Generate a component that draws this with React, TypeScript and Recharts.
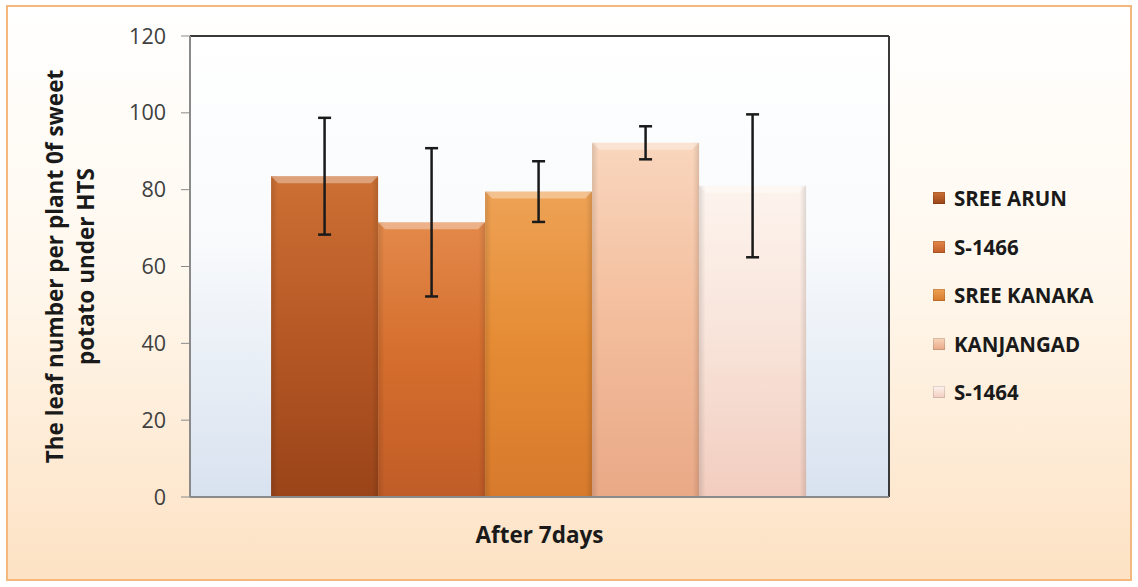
import React from "react";
import {
  BarChart,
  Bar,
  XAxis,
  YAxis,
  CartesianGrid,
  ErrorBar,
  Legend,
} from "recharts";

const categories = ["After 7days"];
const varieties = ["SREE ARUN", "S-1466", "SREE KANAKA", "KANJANGAD", "S-1464"];
const means = [83.5, 71.5, 79.5, 92.2, 81.0];
const errors = [15.2, 19.3, 7.9, 4.3, 18.6];
const yTicks = [0, 20, 40, 60, 80, 100, 120];

const gradTop = ["#cc7034", "#e3894a", "#eea255", "#f9d6bd", "#fdf4ee"];
const gradMid = ["#b65825", "#d46d2d", "#e58b34", "#f3bd9c", "#f8e3d9"];
const gradBot = ["#9a4419", "#c05c27", "#d77a2c", "#e9a987", "#f2cdbf"];

const data = categories.map((name) => {
  const row: Record<string, string | number> = { name };
  varieties.forEach((_, i) => {
    row[`v${i}`] = means[i];
    row[`e${i}`] = errors[i];
  });
  return row;
});

const FONT = "'Open Sans', Lato, sans-serif";
const LEGEND_W = 200;

const makeShape = (i: number) => (props: any) => {
  const { x, y, width, height } = props;
  if (width == null || height == null) return null;
  const b = Math.min(7, width / 6);
  return (
    <g>
      <rect x={x} y={y} width={width} height={height} fill={`url(#barGrad${i})`} />
      <rect x={x} y={y} width={width} height={height} fill="url(#edgeShade)" />
      <path
        d={`M${x},${y} L${x + width},${y} L${x + width - b},${y + b} L${x + b},${y + b} Z`}
        fill="#ffffff"
        fillOpacity={0.35}
      />
    </g>
  );
};

const YLabel = (props: any) => {
  const vb = props.viewBox || {};
  const cx = 70;
  const cy = vb.y + vb.height / 2;
  return (
    <text
      transform={`translate(${cx},${cy}) rotate(-90)`}
      textAnchor="middle"
      fontFamily={FONT}
      fontWeight={700}
      fontSize={22.5}
      fill="#1a1a1a"
    >
      <tspan x={0} dy={-7}>The leaf number per plant 0f sweet</tspan>
      <tspan x={0} dy={31}>potato under HTS</tspan>
    </text>
  );
};

const LegendContent = () => (
  <div style={{ fontFamily: FONT }}>
    {varieties.map((v, i) => (
      <div
        key={v}
        style={{ display: "flex", alignItems: "center", height: 48.5 }}
      >
        <div
          style={{
            width: 12,
            height: 12,
            marginRight: 9,
            background: `linear-gradient(to bottom, ${gradTop[i]}, ${gradBot[i]})`,
            boxShadow: "inset 0 0 0 1px rgba(0,0,0,0.12)",
          }}
        />
        <span style={{ fontSize: 20.5, fontWeight: 700, color: "#1a1a1a", whiteSpace: "nowrap" }}>{v}</span>
      </div>
    ))}
  </div>
);

export default function App() {
  return (
    <div style={{ position: "absolute", left: 0, top: 0, width: 1138, height: 587 }}>
      <div
        style={{
          position: "absolute",
          left: 6,
          top: 5,
          width: 1122,
          height: 572,
          border: "2px solid #f4b77c",
          background: "linear-gradient(to bottom, #ffffff 0%, #fff8ee 45%, #fde2c4 100%)",
        }}
      />
      <div style={{ position: "absolute", left: 0, top: 0 }}>
        <BarChart
          width={1138}
          height={587}
          data={data}
          margin={{ top: 36, right: 249 - LEGEND_W, bottom: 0, left: 0 }}
          barCategoryGap="11.6%"
          barGap={0}
        >
          <defs>
            <linearGradient id="plotBg" x1="0" y1="0" x2="0" y2="1">
              <stop offset="0%" stopColor="#ffffff" />
              <stop offset="45%" stopColor="#f8fafc" />
              <stop offset="100%" stopColor="#d8e2ef" />
            </linearGradient>
            <linearGradient id="edgeShade" x1="0" y1="0" x2="1" y2="0">
              <stop offset="0%" stopColor="#000000" stopOpacity={0.12} />
              <stop offset="6%" stopColor="#000000" stopOpacity={0} />
              <stop offset="94%" stopColor="#000000" stopOpacity={0} />
              <stop offset="100%" stopColor="#000000" stopOpacity={0.12} />
            </linearGradient>
            {varieties.map((_, i) => (
              <linearGradient key={i} id={`barGrad${i}`} x1="0" y1="0" x2="0" y2="1">
                <stop offset="0%" stopColor={gradTop[i]} />
                <stop offset="50%" stopColor={gradMid[i]} />
                <stop offset="100%" stopColor={gradBot[i]} />
              </linearGradient>
            ))}
          </defs>
          <CartesianGrid horizontal={false} vertical={false} fill="url(#plotBg)" />
          <CartesianGrid
            stroke="#3a3a3a"
            strokeWidth={2}
            horizontalCoordinatesGenerator={({ offset }: any) => [offset.top]}
            verticalCoordinatesGenerator={({ offset }: any) => [offset.left + offset.width]}
          />
          <XAxis
            dataKey="name"
            height={90}
            tick={false}
            tickLine={false}
            axisLine={{ stroke: "#8a8a8a", strokeWidth: 2 }}
            label={{
              value: "After 7days",
              position: "insideTop",
              offset: 30,
              style: { fontFamily: FONT, fontWeight: 700, fontSize: 22.5, fill: "#1a1a1a" },
            }}
          />
          <YAxis
            width={190}
            domain={[0, 120]}
            ticks={yTicks}
            tickSize={9}
            tickMargin={15}
            tickLine={{ stroke: "#8a8a8a" }}
            axisLine={{ stroke: "#8a8a8a", strokeWidth: 2 }}
            tick={{ fontFamily: FONT, fontSize: 21.5, fill: "#404040" }}
            label={<YLabel />}
          />
          <Legend
            layout="horizontal"
            align="right"
            verticalAlign="middle"
            content={<LegendContent />}
            wrapperStyle={{ position: "absolute", left: 933, top: 174, width: LEGEND_W }}
          />
          {varieties.map((v, i) => (
            <Bar
              key={v}
              dataKey={`v${i}`}
              name={v}
              fill={gradMid[i]}
              shape={makeShape(i)}
              isAnimationActive={false}
            >
              <ErrorBar
                dataKey={`e${i}`}
                width={6.5}
                stroke="#1a1a1a"
                strokeWidth={2.5}
              />
            </Bar>
          ))}
        </BarChart>
      </div>
    </div>
  );
}
